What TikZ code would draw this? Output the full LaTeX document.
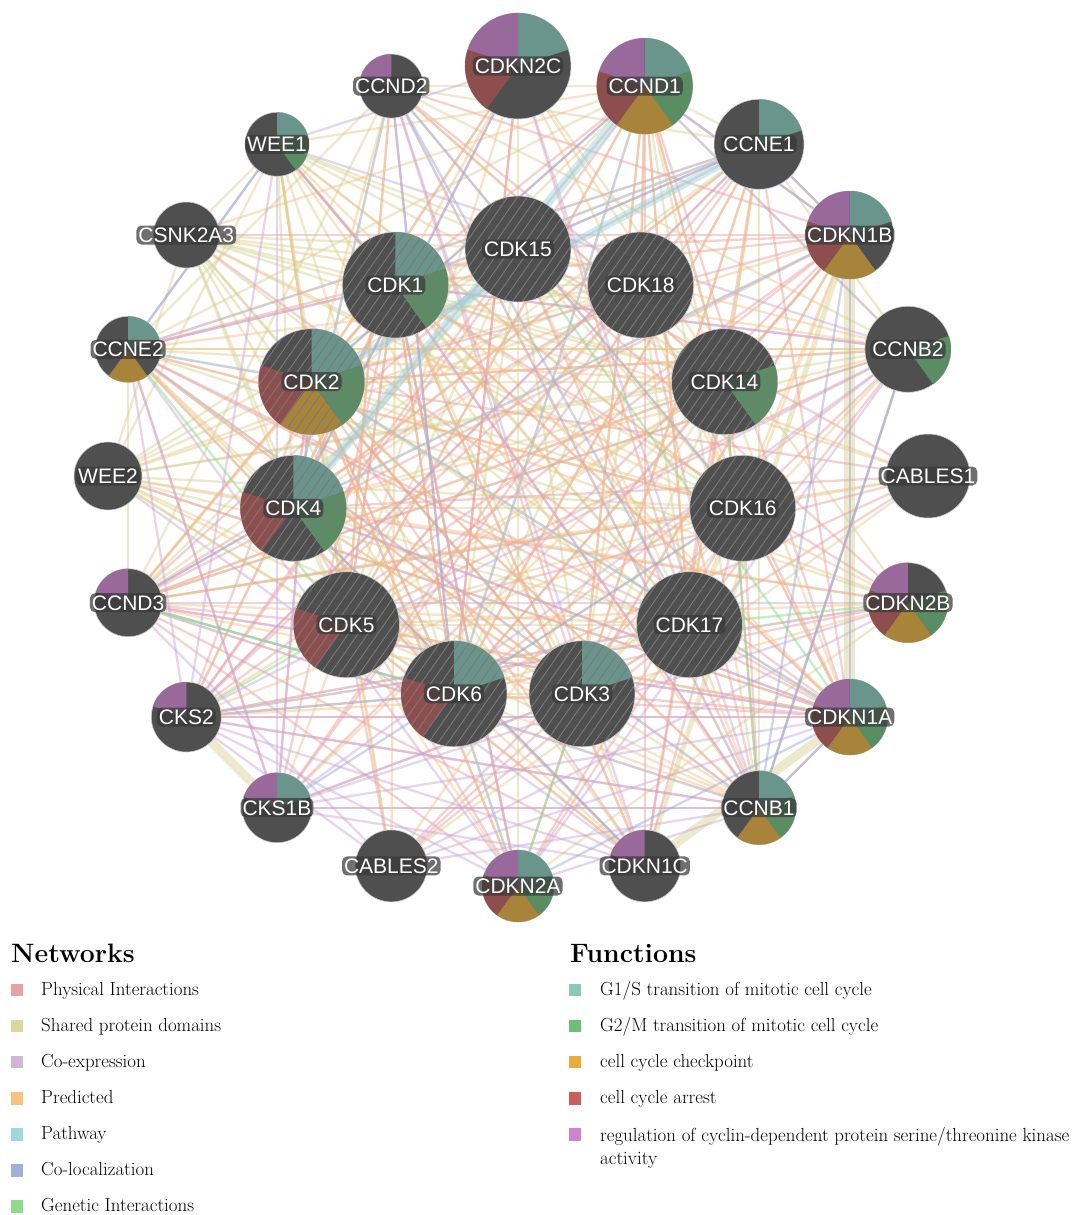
\documentclass[tikz,border=0pt]{standalone}
\usepackage{fontspec}
\newfontfamily\labfont{Liberation Sans}
\usetikzlibrary{patterns.meta}
\pgfdeclarelayer{bg}
\pgfsetlayers{bg,main}
% function (pie) colours inside nodes
\definecolor{pieA}{HTML}{6A958C}
\definecolor{pieB}{HTML}{5A8D64}
\definecolor{pieC}{HTML}{A8843A}
\definecolor{pieD}{HTML}{8E4E4E}
\definecolor{pieE}{HTML}{98699A}
\definecolor{nodegray}{HTML}{4F4F4F}
% network colours
\definecolor{cphys}{HTML}{EA9C9C}
\definecolor{cshared}{HTML}{D6CF8E}
\definecolor{ccoexp}{HTML}{C9A6D6}
\definecolor{cpred}{HTML}{F3C184}
\definecolor{cpath}{HTML}{95D4DE}
\definecolor{ccoloc}{HTML}{93A6DC}
\definecolor{cgen}{HTML}{7FD97F}
% legend colours
\definecolor{lphys}{HTML}{E8A1A1}
\definecolor{lshared}{HTML}{DCD7A0}
\definecolor{lcoexp}{HTML}{D2B4D7}
\definecolor{lpred}{HTML}{F5C382}
\definecolor{lpath}{HTML}{A0D7DC}
\definecolor{lcoloc}{HTML}{A0AFDC}
\definecolor{lgen}{HTML}{8CDC8C}
\definecolor{fA}{HTML}{8CC8BE}
\definecolor{fB}{HTML}{6EBE78}
\definecolor{fC}{HTML}{EBAA3C}
\definecolor{fD}{HTML}{C85F5A}
\definecolor{fE}{HTML}{D282CD}
\tikzset{
  gene/.style={circle, inner sep=0pt, fill=nodegray, draw=white!60!gray, line width=0.6pt},
  pie0/.style={fill=none},
  pie1/.style={fill=pieA}, pie2/.style={fill=pieB}, pie3/.style={fill=pieC},
  pie4/.style={fill=pieD}, pie5/.style={fill=pieE},
  hatch/.style={pattern={Lines[angle=55,distance=8pt,line width=0.9pt]}, pattern color=white!48!black},
  lab/.style={font=\fontsize{21}{21}\selectfont\labfont, text=white, fill=black!78, fill opacity=0.72,
    text opacity=1, rounded corners=5pt, inner xsep=2pt, inner ysep=2pt, text height=15pt, text depth=0pt},
  edge/.style={line width=2.3pt, draw opacity=0.45},
  phys/.style={edge, draw=cphys},
  shared/.style={edge, draw=cshared},
  coexp/.style={edge, draw=ccoexp},
  pred/.style={edge, draw=cpred},
  pathw/.style={edge, draw=cpath},
  coloc/.style={edge, draw=ccoloc},
  genet/.style={edge, draw=cgen},
  legsq/.style={rectangle, minimum size=12.5pt, inner sep=0pt},
  legtxt/.style={anchor=base west, inner sep=0pt, font=\fontsize{18.9}{23}\selectfont},
  legtitle/.style={anchor=base west, inner sep=0pt, font=\fontsize{26.6}{30}\selectfont\bfseries},
}
\newcommand\pieslice[3]{%
  \fill[pie#3] (#1.center) -- ++({90-72*(#3-1)}:#2) arc[start angle={90-72*(#3-1)}, end angle={90-72*#3}, radius=#2] -- cycle;}
\newcommand\gene[5]{%
  \node[gene, minimum size={2*#4}] (#1) at (#2,-#3) {};
  \foreach \k in {#5} {\pieslice{#1}{#4}{\k}}
  \node[lab] (#1-l) at (#1) {#1};}
\newcommand\cdk[4]{%
  \node[gene, minimum size=106] (#1) at (#2,-#3) {};
  \foreach \k in {#4} {\pieslice{#1}{53}{\k}}
  \fill[hatch] (#1.center) circle[radius=52.5];
  \node[lab] (#1-l) at (#1) {#1};}
\begin{document}
\begin{tikzpicture}[x=1pt,y=1pt]
\useasboundingbox (0,0) rectangle (1071,-1215);
% outer ring
\gene{CDKN2C}{518}{66}{53}{1,4,5}
\gene{CCND1}{644.7}{86.1}{48}{1,2,3,4,5}
\gene{CCNE1}{759}{144.3}{45}{1}
\gene{CDKN1B}{849.7}{235}{44}{1,3,4,5}
\gene{CCNB2}{907.9}{349.3}{43}{2}
\gene{CABLES1}{928}{476}{42}{0}
\gene{CDKN2B}{907.9}{602.7}{40}{2,3,4,5}
\gene{CDKN1A}{849.7}{717}{38}{1,2,3,4,5}
\gene{CCNB1}{759}{807.7}{37}{1,2,3}
\gene{CDKN1C}{644.7}{865.9}{36}{5}
\gene{CDKN2A}{518}{886}{36}{1,2,3,4,5}
\gene{CABLES2}{391.3}{865.9}{36}{0}
\gene{CKS1B}{277}{807.7}{35}{1,5}
\gene{CKS2}{186.3}{717}{35}{5}
\gene{CCND3}{128.1}{602.7}{34}{5}
\gene{WEE2}{108}{476}{34}{0}
\gene{CCNE2}{128.1}{349.3}{33}{1,3}
\gene{CSNK2A3}{186.3}{235}{33}{0}
\gene{WEE1}{277}{144.3}{32}{1,2}
\gene{CCND2}{391.3}{86.1}{32}{5}
% inner ring
\cdk{CDK15}{518}{249}{0}
\cdk{CDK18}{640.7}{285}{0}
\cdk{CDK14}{724.5}{381.7}{2}
\cdk{CDK16}{742.7}{508.3}{0}
\cdk{CDK17}{689.5}{624.7}{0}
\cdk{CDK3}{582}{693.8}{1}
\cdk{CDK6}{454}{693.8}{1,4}
\cdk{CDK5}{346.5}{624.7}{4}
\cdk{CDK4}{293.3}{508.3}{1,2,4}
\cdk{CDK2}{311.5}{381.7}{1,2,3,4}
\cdk{CDK1}{395.3}{285}{1,2}
% edges
\begin{pgfonlayer}{bg}
\fill[white] (0,0) rectangle (1071,-1215);
% shared protein domains: kinases
\foreach \a [count=\i] in {CDK1,CDK2,CDK3,CDK4,CDK5,CDK6,CDK14,CDK15,CDK16,CDK17,CDK18,WEE1,WEE2,CSNK2A3}{
  \foreach \b [count=\j] in {CDK1,CDK2,CDK3,CDK4,CDK5,CDK6,CDK14,CDK15,CDK16,CDK17,CDK18,WEE1,WEE2,CSNK2A3}{
    \ifnum\i<\j \draw[shared] (\a) -- (\b);\fi}}
% shared protein domains: cyclins
\foreach \a [count=\i] in {CCND1,CCND2,CCND3,CCNE1,CCNE2,CCNB1,CCNB2}{
  \foreach \b [count=\j] in {CCND1,CCND2,CCND3,CCNE1,CCNE2,CCNB1,CCNB2}{
    \ifnum\i<\j \draw[shared] (\a) -- (\b);\fi}}
\foreach \a/\b in {CABLES1/CABLES2, CDKN2A/CDKN2B, CDKN2A/CDKN2C, CDKN2B/CDKN2C, CCNE2/CDKN2B, CCND3/CABLES1,
  WEE2/CDKN1A, WEE2/CCNB2, CSNK2A3/CDKN1C, CSNK2A3/CABLES1, WEE1/CABLES2, CCNE2/CDKN1C}
  \draw[shared] (\a) -- (\b);
\draw[shared, line width=5pt] (CDKN1B) -- (CDKN1C);
\draw[shared, line width=11pt] (CDKN1B) -- (CDKN1A);
\draw[shared, line width=9pt] (CDKN1A) -- (CDKN1C);
\draw[shared, line width=9pt] (CKS2) -- (CKS1B);
% physical interactions
\foreach \a/\b in {CDK1/CCNB1, CDK1/CCNB2, CDK1/CKS1B, CDK1/CKS2, CDK1/CDKN1A, CDK1/CDKN1B, CDK1/CCNE1, CDK1/CCNE2,
  CDK1/WEE1, CDK1/CDKN1C, CDK1/CDK2, CDK1/CCND1, CDK2/CCNE1, CDK2/CCNE2, CDK2/CDKN1A, CDK2/CDKN1B, CDK2/CDKN1C,
  CDK2/CKS1B, CDK2/CKS2, CDK2/CCND1, CDK2/CCND3, CDK2/CCNB1, CDK2/CDKN2A, CDK2/CABLES1, CDK4/CCND1, CDK4/CCND2,
  CDK4/CCND3, CDK4/CDKN2A, CDK4/CDKN2B, CDK4/CDKN2C, CDK4/CDKN1A, CDK4/CDKN1B, CDK4/CDKN1C, CDK6/CCND1, CDK6/CCND2,
  CDK6/CCND3, CDK6/CDKN2A, CDK6/CDKN2B, CDK6/CDKN2C, CDK6/CDKN1B, CDK6/CDKN1A, CDK5/CABLES1, CDK5/CABLES2,
  CDK5/CDKN1C, CDK5/CCNE1, CDK5/CDKN1B, CDK3/CDKN1A, CDK3/CABLES1, CDK3/CKS1B, CDK3/CCNE1, CDK3/CCNE2, CDK3/CDKN1B,
  CDK14/CCND3, CDK14/CCNB1, CDK16/CCNB2, CDK16/CCNB1, CDK17/CCNB2, CDK18/CCND2, CCND1/CDKN1A, CCND1/CDKN1B,
  CCNE1/CDKN1B, CCNE1/CDKN1A, CCNB1/CDKN1A, CCND2/CDKN1B, CCND3/CDKN1B, CCND3/CDKN1A, CCNE2/CDKN1A, CCNE1/CDKN1C,
  CCND1/CDKN1C, CKS1B/CCNB1, CKS1B/CCNE1, CKS2/CDKN1B, CKS1B/CDKN1B, CCND3/CDKN1C, CKS2/CCNB1, CCND3/CDK18,
  CKS2/CDK15, CCNE2/CDK17, CDKN2C/CDK6, CDKN2C/CDK17, CCND2/CDK3,
  CDK15/CCNE1, CDK15/CDKN1B, CDK18/CCND1, CDK18/CDKN1A, CDK16/CDKN1A, CDK16/CCND3, CDK16/CCNE2, CDK17/CDKN1A,
  CDK17/CCND1, CDK14/CCND1, CDK14/CCND2, CDK14/CDKN1B, CDK3/CCND1, CDK3/CDKN2A, CDK5/CCND1, CDK5/CCND2, CDK5/CCND3,
  CDK5/CDKN1A, CDK1/CDKN2A, CDK2/CCNB2, CDK2/CDKN2C, CDK4/CCNE1, CDK6/CCNE1, CDK6/CCNE2, CDK1/CDK6, CDK1/CDK4,
  CDK2/CDK4, CDK2/CDK6, CDK2/CDK3, CDK1/CDK5, CCND1/CKS2, CCND3/CCNB2, CKS2/CDKN1A, CKS2/CCNE1, CKS1B/CCNE2,
  CSNK2A3/CDKN1B, CSNK2A3/CDKN1A, WEE2/CDKN1A, CCND3/CDKN2A, CCND3/CDK15, CCNE2/CDK15, CKS2/CDK18, CKS1B/CDK18,
  CABLES2/CDK3, CABLES2/CDK17, CABLES2/CDK16, CDKN2A/CDK17, CDKN2A/CDK16, CDKN1C/CDK16, CDKN1C/CDK14, CCNB1/CDK15,
  CCNB1/CDK18, CDKN2B/CDK1, CDKN2B/CDK15, CCNB2/CDK5, CCNB2/CDK6, CABLES1/CDK4, CABLES1/CDK6, CABLES1/CDK15}
  \draw[phys] (\a) -- (\b);
% predicted
\foreach \a/\b in {CCNE2/CDK3, CCNE2/CDK6, CCNE2/CDK16, CCNE2/CDK14, CCND3/CDK2, CCND3/CDK1, CCND3/CDK16, CCND3/CDK17,
  CKS2/CDK3, CKS2/CDK6, CKS2/CDK14, CKS2/CDK17, CCND2/CDK2, CCND2/CDK5, CCND1/CDK3, CCND1/CDK5, CCND1/CDK17,
  CCNE1/CDK4, CCNE1/CDK6, CCNB1/CDK2, CCNB1/CDK4, CCNB1/CDK5, CCNB2/CDK2, CCNB2/CDK4, CDKN1A/CDK5, CDKN1A/CDK14,
  CDKN1B/CDK3, CDKN1B/CDK14, CDKN2A/CDK2, CDKN2C/CDK2, CDKN2B/CDK5, CABLES1/CDK1, CABLES2/CDK1, CABLES1/CDK16,
  WEE1/CDK2, WEE1/CCNB1, WEE2/CCNB1, CDKN1C/CDK6, CDKN1C/CDK3, WEE2/CDKN2B, CSNK2A3/CCNB2,
  CKS2/CDKN2B, CCNE2/CCNB2, WEE1/CDK16,
  CCND2/CDK14, CCND2/CDK16, CCND1/CDK14, CCND1/CDK16, CCND1/CDK18, CCNE1/CDK14, CCNE1/CDK17, CCNE1/CDK3,
  CDKN1B/CDK16, CDKN1B/CDK17, CCNB2/CDK3, CCNB2/CDK15, CDKN2B/CDK2, CDKN2B/CDK3, CDKN1A/CDK1, CDKN1A/CDK16,
  CCNB1/CDK17, CCNB1/CDK6, CDKN1C/CDK5, CDKN1C/CDK1, CDKN2A/CDK5, CDKN2A/CDK1, CABLES2/CDK2, CABLES2/CDK14,
  CKS1B/CDK5, CKS1B/CDK14, CKS2/CDK1, CKS2/CDK16, CCND3/CDK3, CCND3/CDK14, WEE2/CDKN1B, CCNE2/CDK18, CCNE2/CDK4,
  CSNK2A3/CCND1, CSNK2A3/CDKN2B, WEE1/CDKN1A, WEE1/CCND1, CDKN2C/CDK5, CDKN2C/CDK14, CDKN2C/CDK16, CDKN2C/CDK1}
  \draw[pred] (\a) -- (\b);
% co-expression
\foreach \a/\b in {CCNB1/CCNB2, CCNB1/CDK1, CCNB2/CDK1, CKS1B/CCNB1, CKS1B/CCNB2, CKS2/CCNB2, CKS2/CDKN1A,
  CKS1B/CDKN1A, CKS2/CDKN2A, CKS1B/CDKN1C, CCNE2/CDK1, CCNE2/CCNE1, CCNE2/CCNB1, WEE1/CDK1, WEE1/CCNB2,
  CABLES2/CCNB1, CABLES2/CDKN1A, CCND3/CCNB1, CCND3/CDKN2B, CCND2/CDKN1C, CDKN2A/CCNB1, CDKN1C/CKS2, CDK2/CKS1B,
  CDK4/CDKN1A, CCND1/CCNB2, CKS1B/CDK3, CKS2/CDK17, CKS1B/CDKN2B, CCND3/CDKN1A, CABLES2/CDKN2B, CKS2/CCNB1,
  CCNE2/CKS2, CCNE2/CKS1B, CCNE2/CDKN2A, WEE1/CKS1B, WEE1/CKS2, WEE1/CCNE2, WEE1/CDKN2C, CCNB2/CDKN2A,
  CCNB1/CDKN2C, CDK1/CDKN2A, CKS2/CCNE1, CABLES2/CCND3, CABLES2/CKS2, CDKN2B/CKS2, WEE2/CDKN1C, CCNB1/CCND2}
  \draw[coexp] (\a) -- (\b);
% pathway
\draw[pathw, line width=9pt, draw opacity=0.45] (CCND1) -- (CDK4);
\draw[pathw, line width=8pt, draw opacity=0.45] (CCNE1) -- (CDK2);
\foreach \a/\b in {CCND1/CDK6, CCNE2/CDK2, CDKN1A/CDK2, CDKN1B/CDK4, CDKN2A/CDK6, CCND2/CDK4, CCND3/CDK6, CCNE1/CDK1}
  \draw[pathw] (\a) -- (\b);
% co-localization
\foreach \a/\b in {CCNE1/CDKN1B, CDKN1A/CCNB1, CCND2/CDK6, CDKN2C/CDK4, CCNE1/CDK15, CDKN1B/CDKN1A, CCND2/CDK17,
  CCNE2/WEE1, CKS2/CDK6, CCNB1/CDKN1B, CDKN1C/CDK4, CCND2/CDK16, CKS1B/CDK16, CCNB2/CCNB1, CDKN1A/CDKN2A,
  CCND1/CDKN1B, CCND3/CDK4, CCND1/CDK2}
  \draw[coloc] (\a) -- (\b);
% genetic interactions
\foreach \a/\b in {CDK3/CDKN2A, CDK17/CDKN2B, CKS2/CDK5, CCNE2/CDK5, CDK15/CDKN1A, CCND3/CDK6, CDK14/CCNB1}
  \draw[genet] (\a) -- (\b);
\end{pgfonlayer}
% legend: networks
\node[legtitle] (nettitle) at (11,-962) {Networks};
\foreach \c/\t [count=\i] in {lphys/Physical Interactions, lshared/Shared protein domains, lcoexp/Co-expression,
  lpred/Predicted, lpath/Pathway, lcoloc/Co-localization, lgen/Genetic Interactions}{
  \node[legsq, fill=\c] (nsq\i) at (17,{-990-36.1*(\i-1)}) {};
  \node[legtxt] (ntx\i) at (41,{-995-36.1*(\i-1)}) {\t};
}
% legend: functions
\node[legtitle] (funtitle) at (570,-962) {Functions};
\foreach \c/\t [count=\i] in {fA/G1\slash S transition of mitotic cell cycle, fB/G2\slash M transition of mitotic cell cycle,
  fC/cell cycle checkpoint, fD/cell cycle arrest}{
  \node[legsq, fill=\c] (fsq\i) at (575,{-990-36.1*(\i-1)}) {};
  \node[legtxt] (ftx\i) at (600,{-995-36.1*(\i-1)}) {\t};
}
\node[legsq, fill=fE] (fsq5) at (575,-1134.4) {};
\node[legtxt, anchor=north west, align=left] (ftx5) at (600,-1127)
  {regulation of cyclin-dependent protein serine/threonine kinase\\activity};
\end{tikzpicture}
\end{document}
